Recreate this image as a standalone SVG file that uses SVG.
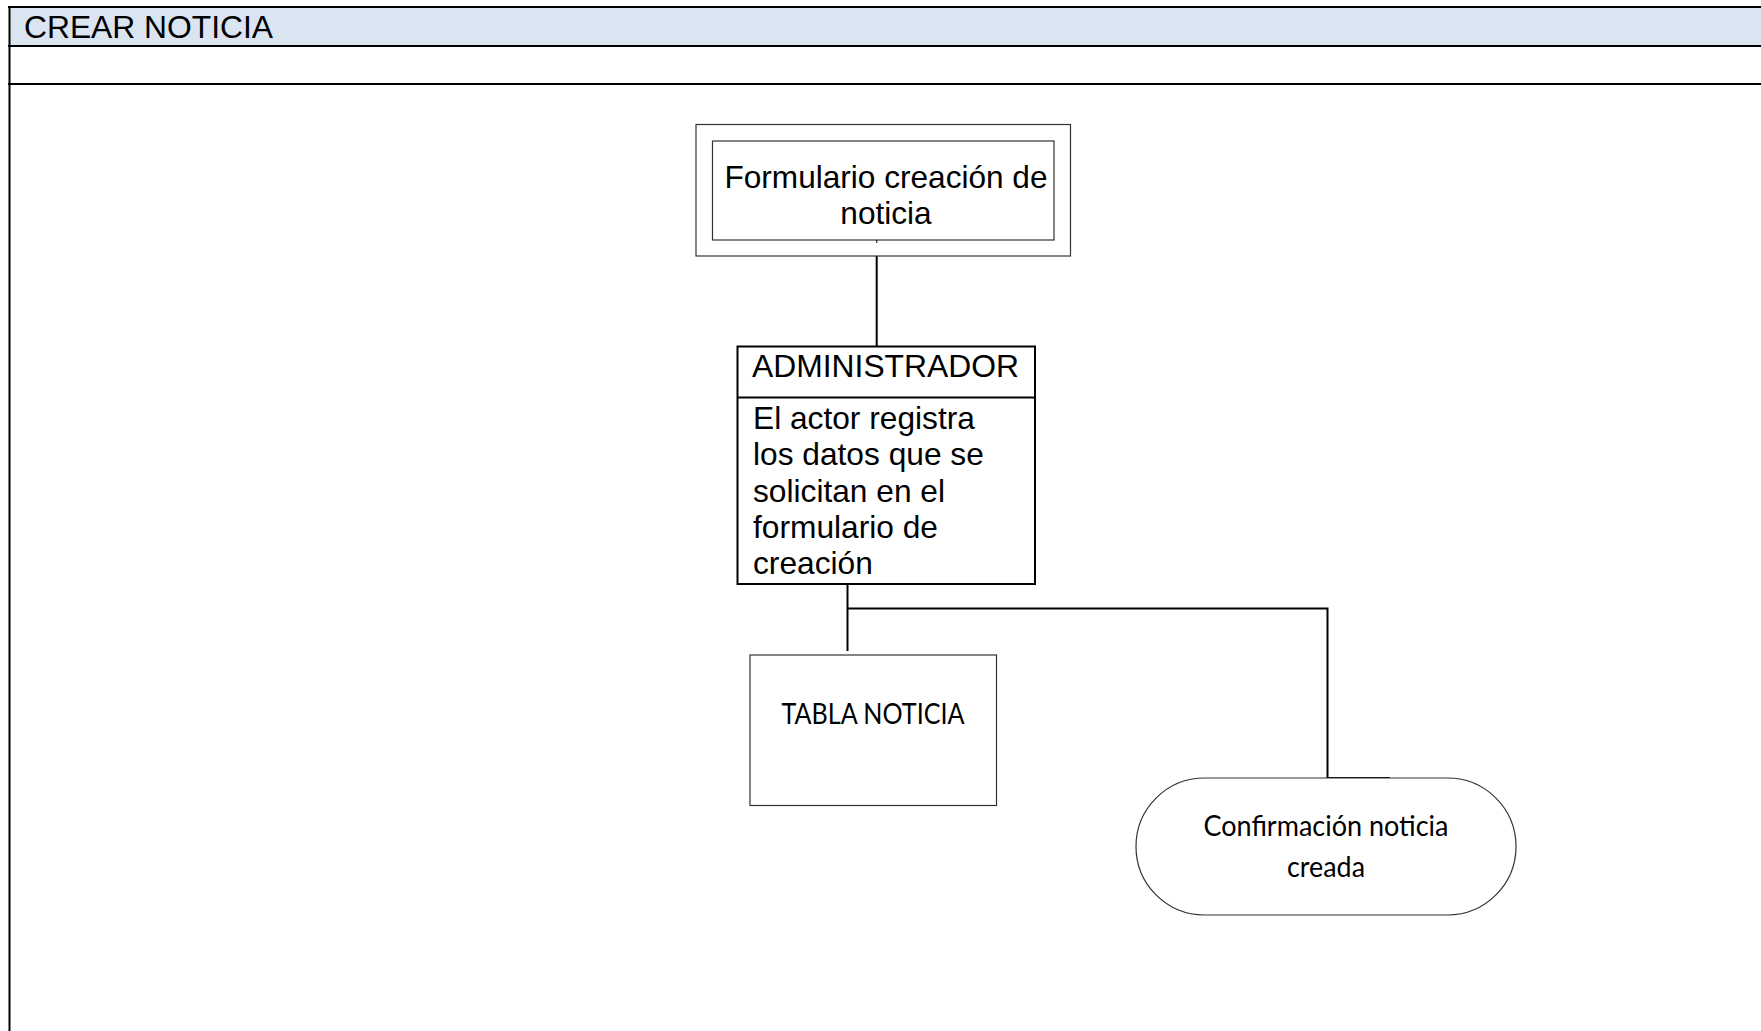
<svg xmlns="http://www.w3.org/2000/svg" width="1761" height="1031" viewBox="0 0 1761 1031">
<style>
.arial{font-family:"Liberation Sans",Arial,sans-serif;fill:#000}
.cal{font-family:Lato,"Open Sans",sans-serif;fill:#000}
.thin{fill:#fff;stroke:#333;stroke-width:1.2}
.bold{fill:#fff;stroke:#000;stroke-width:2}
.conn{fill:none;stroke:#000;stroke-width:2}
</style>
<rect width="1761" height="1031" fill="#fff"/>
<g id="header">
<rect x="9" y="7" width="1752" height="39" fill="#dbe5f1"/>
<line x1="8" y1="7" x2="1761" y2="7" stroke="#000" stroke-width="2"/>
<line x1="8" y1="46" x2="1761" y2="46" stroke="#000" stroke-width="2"/>
<line x1="8" y1="84" x2="1761" y2="84" stroke="#000" stroke-width="2"/>
<line x1="9.5" y1="6" x2="9.5" y2="1031" stroke="#000" stroke-width="2"/>
<text class="arial" x="24" y="38" font-size="31.8" textLength="249" lengthAdjust="spacingAndGlyphs">CREAR NOTICIA</text>
</g>
<g id="connectors">
<line class="conn" x1="876.7" y1="256" x2="876.7" y2="346"/>
<polyline class="conn" points="847.5,584 847.5,651"/>
<polyline class="conn" points="847.5,608.5 1327.5,608.5 1327.5,778 1390,778"/>
</g>
<g id="formulario">
<rect class="thin" x="696" y="124.5" width="374.5" height="131.5"/>
<rect class="thin" x="712.5" y="141" width="341.5" height="99"/>
<line x1="876.7" y1="240" x2="876.7" y2="243" stroke="#000" stroke-width="1"/>
<text class="arial" font-size="31.6" text-anchor="middle"><tspan x="886" y="188" textLength="323" lengthAdjust="spacingAndGlyphs">Formulario creación de</tspan><tspan x="886" y="223.5">noticia</tspan></text>
</g>
<g id="administrador">
<rect class="bold" x="737.5" y="346.5" width="297.5" height="237.5"/>
<line x1="737.5" y1="397.5" x2="1035" y2="397.5" stroke="#000" stroke-width="2"/>
<text class="arial" x="752" y="377" font-size="31.8" textLength="267" lengthAdjust="spacingAndGlyphs">ADMINISTRADOR</text>
<text class="arial" font-size="31.7"><tspan x="753" y="429">El actor registra</tspan><tspan x="753" y="465.3">los datos que se</tspan><tspan x="753" y="501.6">solicitan en el</tspan><tspan x="753" y="537.9">formulario de</tspan><tspan x="753" y="574.2">creación</tspan></text>
</g>
<g id="tabla">
<rect class="thin" x="750" y="655" width="246.5" height="150.5"/>
<text class="cal" x="873" y="724" font-size="28" text-anchor="middle" textLength="183" lengthAdjust="spacingAndGlyphs">TABLA NOTICIA</text>
</g>
<g id="confirmacion">
<rect class="thin" x="1136" y="778" width="380" height="137" rx="68.5" ry="68.5"/>
<text class="cal" font-size="28" text-anchor="middle"><tspan x="1326" y="836" textLength="245" lengthAdjust="spacingAndGlyphs">Confirmación noticia</tspan><tspan x="1326" y="877" textLength="78" lengthAdjust="spacingAndGlyphs">creada</tspan></text>
</g>
</svg>
